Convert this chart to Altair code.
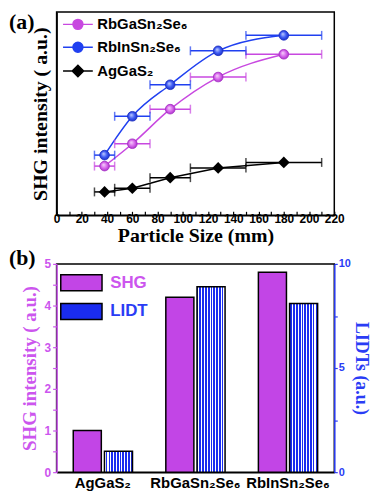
import json
import altair as alt
import pandas as pd

SANS = "Liberation Sans"
SERIF = "Liberation Serif"

# ---------------- data: panel (a) ----------------
series_names = ["RbGaSn₂Se₆", "RbInSn₂Se₆", "AgGaS₂"]
particle_size = [38, 60, 90, 128, 180]
size_lo = [30, 46, 74, 106, 150]
size_hi = [46, 74, 106, 150, 210]
shg_rbga = [24.2, 35.2, 52.2, 68.0, 79.2]
shg_rbin = [29.6, 48.7, 64.2, 80.9, 88.5]
shg_ag = [11.5, 13.3, 18.5, 23.3, 26.0]

# ---------------- data: panel (b) ----------------
compounds = ["AgGaS₂", "RbGaSn₂Se₆", "RbInSn₂Se₆"]
bar_series = ["SHG", "LIDT"]
shg_bar = [1.0, 4.2, 4.8]
lidt_bar = [1.0, 8.9, 8.1]

PINK = "#c848e0"
BLUE = "#2040f0"
MAG_TXT = "#cc55ee"
BLUE_TXT = "#2a3cf5"
BAR_PINK = "#c245e6"
CHECK_BLUE = "#1a2cf0"

W = 280
H_TOP = 205
H_BOT = 210

rows = []
for name, vals in zip(series_names, [shg_rbga, shg_rbin, shg_ag]):
    for s, lo, hi, v in zip(particle_size, size_lo, size_hi, vals):
        rows.append({"series": name, "size": s, "lo": lo, "hi": hi, "shg": v})
top_df = pd.DataFrame(rows)

x_axis = alt.Axis(
    title="Particle Size (mm)", values=list(range(0, 221, 10)),
    labelExpr="datum.value % 20 === 0 ? format(datum.value, 'd') : ''",
    labelOverlap=False, labelFlush=False,
    tickSize={"expr": "-4"}, tickColor="black", tickWidth=1.2,
    domainColor="black", domainWidth=1.5, grid=False,
    labelFont=SANS, labelFontSize=12, labelFontWeight="bold", labelColor="black",
    labelPadding=2, titleFont=SERIF, titleFontSize=20, titleFontWeight="bold",
    titleColor="black", titlePadding=1,
)
x_scale = alt.Scale(domain=[0, 220], nice=False, padding=0)
y_axis = alt.Axis(
    title="SHG intensity ( a.u.)", labels=False, ticks=False, grid=False,
    domainColor="black", domainWidth=1.5,
    titleFont=SERIF, titleFontSize=20, titleFontWeight="bold", titleColor="black",
    titlePadding=6,
)
y_scale = alt.Scale(domain=[0, 100], nice=False, padding=0)

def X(field):
    return alt.X(f"{field}:Q", scale=x_scale, axis=x_axis, title="Particle Size (mm)")

def Y():
    return alt.Y("shg:Q", scale=y_scale, axis=y_axis, title="SHG intensity ( a.u.)")

circle_path = "M-3,0H-1A1,1 0 1,1 1,0A1,1 0 1,1 -1,0M1,0H3"
diamond_path = "M-3,0H-1.15M-1.15,0L0,-1.15L1.15,0L0,1.15ZM1.15,0H3"
col_expr = (f"datum.value === '{series_names[2]}' ? 'black' : "
            f"datum.value === '{series_names[1]}' ? '{BLUE}' : '{PINK}'")
top_legend = alt.Legend(
    title=None, orient="none", legendX=14, legendY=5, padding=0,
    labelFont=SANS, labelFontSize=15, labelFontWeight="bold", labelColor="black",
    rowPadding=6, labelOffset=12, symbolSize=100,
    symbolType={"expr": f"datum.value === '{series_names[2]}' ? '{diamond_path}' : '{circle_path}'"},
    symbolFillColor={"expr": col_expr},
    symbolStrokeColor={"expr": col_expr},
    symbolStrokeWidth=1.5, symbolOpacity=1,
)
color_top = alt.Color("series:N", scale=alt.Scale(domain=series_names, range=[PINK, BLUE, "black"]),
                      legend=top_legend)

base = alt.Chart(top_df)
curves = base.transform_filter(
    alt.FieldOneOfPredicate(field="series", oneOf=series_names[:2])
).mark_line(interpolate="monotone", strokeWidth=1.5).encode(x=X("size"), y=Y(), color=color_top)
straight = base.transform_filter(
    alt.FieldEqualPredicate(field="series", equal=series_names[2])
).mark_line(strokeWidth=1.5).encode(x=X("size"), y=Y(), color=color_top)
err = base.mark_rule(strokeWidth=1.5).encode(x=X("lo"), x2="hi:Q", y=Y(), color=color_top)
cap_lo = base.mark_tick(orient="vertical", size=9, thickness=1.5).encode(x=X("lo"), y=Y(), color=color_top)
cap_hi = base.mark_tick(orient="vertical", size=9, thickness=1.5).encode(x=X("hi"), y=Y(), color=color_top)

def sphere(light, mid, dark):
    return {"gradient": "radial", "x1": 0.38, "y1": 0.35, "r1": 0, "x2": 0.5, "y2": 0.5, "r2": 0.55,
            "stops": [{"offset": 0, "color": light}, {"offset": 0.55, "color": mid},
                      {"offset": 1, "color": dark}]}

pts_pink = base.transform_filter(
    alt.FieldEqualPredicate(field="series", equal=series_names[0])
).mark_point(shape="circle", filled=True, size=95, opacity=1,
             fill=sphere("#f6d8fb", "#d868ec", "#a42cc4"), stroke="#a42cc4", strokeWidth=0.8
).encode(x=X("size"), y=Y())
pts_blue = base.transform_filter(
    alt.FieldEqualPredicate(field="series", equal=series_names[1])
).mark_point(shape="circle", filled=True, size=95, opacity=1,
             fill=sphere("#c8d2ff", "#3e5cf4", "#1a2cc0"), stroke="#1a2cc0", strokeWidth=0.8
).encode(x=X("size"), y=Y())
pts_black = base.transform_filter(
    alt.FieldEqualPredicate(field="series", equal=series_names[2])
).mark_point(shape="diamond", filled=True, size=140, opacity=1, color="black"
).encode(x=X("size"), y=Y())

label_a = alt.Chart(pd.DataFrame({"t": ["(a)"]})).mark_text(
    font=SERIF, fontSize=22, fontWeight="bold", align="left", baseline="top", color="black"
).encode(text="t:N", x=alt.value(-48), y=alt.value(0))

top = alt.layer(curves, straight, err, cap_lo, cap_hi, pts_pink, pts_blue, pts_black, label_a).properties(
    width=W, height=H_TOP,
    view=alt.ViewBackground(stroke="black", strokeWidth=1.5),
)

# ---------------- panel (b) ----------------
bar_df = pd.DataFrame({
    "compound": compounds * 2,
    "series": [bar_series[0]] * 3 + [bar_series[1]] * 3,
    "value": shg_bar + lidt_bar,
})

n = 18
stops = []
for i in range(n):
    a, b, c = i / n, (i + 0.6) / n, (i + 1) / n
    stops += [{"offset": round(a, 4), "color": CHECK_BLUE}, {"offset": round(b, 4), "color": CHECK_BLUE},
              {"offset": round(b, 4), "color": "#ffffff"}, {"offset": round(c, 4), "color": "#ffffff"}]
stripes = {"gradient": "linear", "x1": 0, "y1": 0, "x2": 1, "y2": 0, "stops": stops}
stripes_js = json.dumps(stripes).replace('"', "'")

x_b = alt.X("compound:N", sort=compounds,
            scale=alt.Scale(domain=compounds, paddingInner=0.36, paddingOuter=0.18),
            axis=alt.Axis(title=None, labelAngle=0, labelFont=SANS, labelFontSize=15,
                          labelFontWeight="bold", labelColor="black", ticks=False,
                          domainColor="black", domainWidth=1.5, labelPadding=3))
xoff = alt.XOffset("series:N", sort=bar_series,
                   scale=alt.Scale(domain=bar_series, paddingInner=0.1, paddingOuter=0))

bot_legend = alt.Legend(
    title=None, orient="none", legendX=16, legendY=10, padding=0,
    labelFont=SANS, labelFontSize=17, labelFontWeight="bold",
    rowPadding=7, labelOffset=20, symbolSize=256,
    symbolType="M-2.6,-1H2.6V1H-2.6Z",
    symbolFillColor={"expr": f"datum.value === 'SHG' ? '{BAR_PINK}' : {stripes_js}"},
    symbolStrokeColor="black", symbolStrokeWidth=1.5, symbolOpacity=1,
    labelColor={"expr": f"datum.value === 'SHG' ? '{MAG_TXT}' : '{BLUE_TXT}'"},
)

shg_layer = alt.Chart(bar_df).transform_filter(
    alt.FieldEqualPredicate(field="series", equal="SHG")
).mark_bar(stroke="black", strokeWidth=1.5).encode(
    x=x_b, xOffset=xoff,
    y=alt.Y("value:Q", scale=alt.Scale(domain=[0, 5], nice=False),
            axis=alt.Axis(title="SHG intensity ( a.u.)", orient="left",
                          values=[v / 2 for v in range(0, 11)],
                          labelExpr="datum.value % 1 === 0 ? format(datum.value, 'd') : ''",
                          labelOverlap=False, labelFlush=False,
                          tickSize=4, tickWidth=1.2, tickColor=MAG_TXT,
                          domainColor=MAG_TXT, domainWidth=1.5, grid=False,
                          labelFont=SANS, labelFontSize=12, labelFontWeight="bold",
                          labelColor=MAG_TXT, labelPadding=2,
                          titleFont=SERIF, titleFontSize=19, titleFontWeight="bold",
                          titleColor=MAG_TXT, titlePadding=5)),
    color=alt.Color("series:N", scale=alt.Scale(domain=bar_series, range=[BAR_PINK, CHECK_BLUE]),
                    legend=bot_legend),
)
lidt_layer = alt.Chart(bar_df).transform_filter(
    alt.FieldEqualPredicate(field="series", equal="LIDT")
).mark_bar(stroke="black", strokeWidth=1.5, fill=stripes).encode(
    x=x_b, xOffset=xoff,
    y=alt.Y("value:Q", scale=alt.Scale(domain=[0, 10], nice=False),
            axis=alt.Axis(title="LIDTs (a.u.)", orient="right",
                          values=[0, 2.5, 5, 7.5, 10],
                          labelExpr="datum.value % 5 === 0 ? format(datum.value, 'd') : ''",
                          labelOverlap=False, labelFlush=False,
                          tickSize=3, tickWidth=1.2, tickColor=BLUE_TXT,
                          domainColor=BLUE_TXT, domainWidth=1.5, grid=False,
                          labelFont=SANS, labelFontSize=11, labelFontWeight="bold",
                          labelColor=BLUE_TXT, labelPadding=1,
                          titleFont=SERIF, titleFontSize=18, titleFontWeight="bold",
                          titleColor=BLUE_TXT, titlePadding=1)),
)
label_b = alt.Chart(pd.DataFrame({"t": ["(b)"]})).mark_text(
    font=SERIF, fontSize=22, fontWeight="bold", align="left", baseline="top", color="black"
).encode(text="t:N", x=alt.value(-48), y=alt.value(-16))

bottom = alt.layer(shg_layer, lidt_layer, label_b).resolve_scale(y="independent").properties(
    width=W, height=H_BOT,
    view=alt.ViewBackground(stroke="black", strokeWidth=1.5),
)

chart = alt.vconcat(top, bottom, spacing=0).resolve_scale(
    color="independent"
).properties(padding=0).configure_view(stroke="black")

chart.save("out.html", embed_options={"renderer": "svg", "actions": False})
